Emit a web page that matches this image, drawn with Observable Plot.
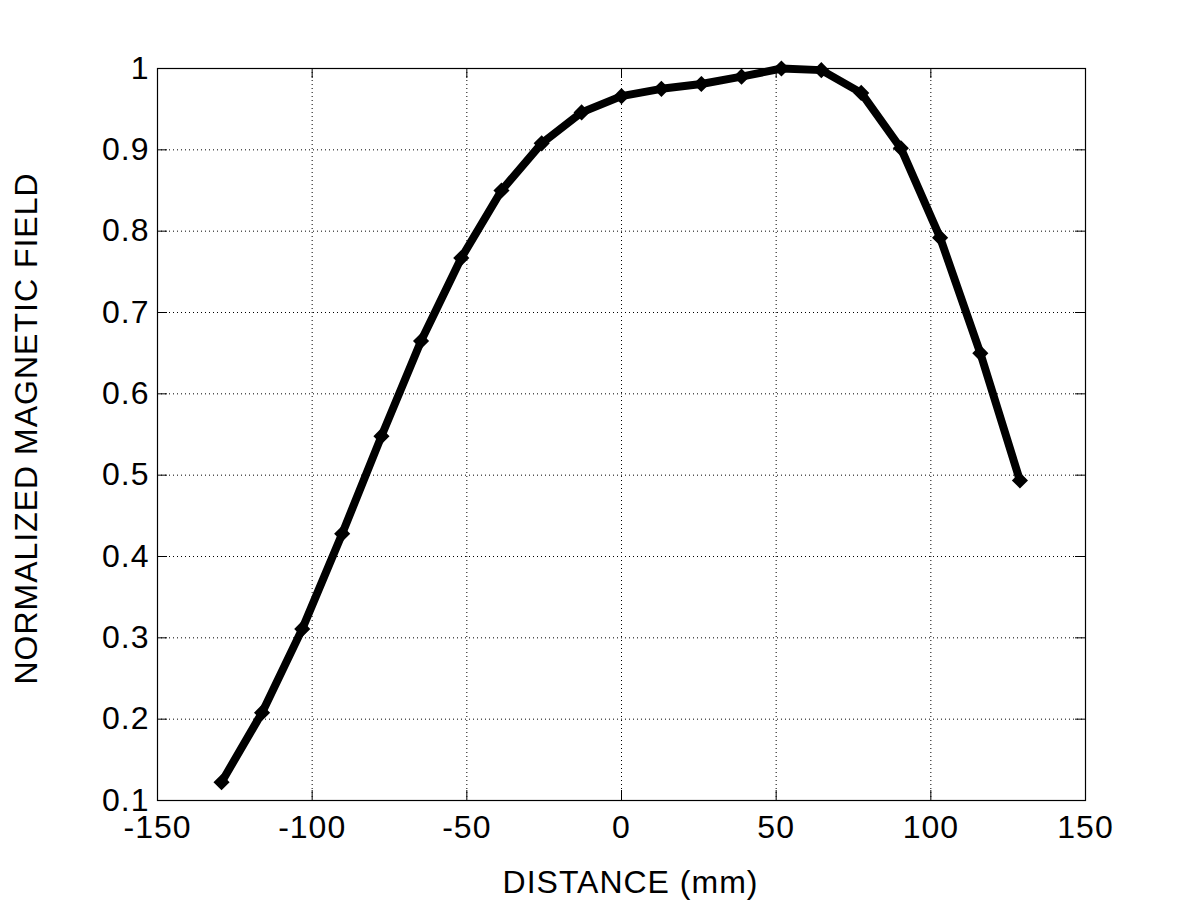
<!DOCTYPE html>
<html>
<head>
<meta charset="utf-8">
<script src="https://cdn.jsdelivr.net/npm/d3@7"></script>
<script src="https://cdn.jsdelivr.net/npm/@observablehq/plot@0.6"></script>
<style>
  html, body { margin: 0; padding: 0; background: #fff; }
  #chart svg { display: block; }
  #chart svg text { letter-spacing: 1px; }
</style>
</head>
<body>
<div id="chart"></div>
<script>
const distance = [-129.3, -116.2, -103.2, -90.3, -77.6, -64.8, -51.8, -38.8, -25.8, -12.9, 0, 12.9, 25.8, 38.8, 51.7, 64.6, 77.5, 90.3, 103.0, 116.0, 128.8];
const field = [0.1225, 0.208, 0.311, 0.428, 0.548, 0.665, 0.767, 0.850, 0.908, 0.946, 0.966, 0.975, 0.981, 0.990, 1.000, 0.998, 0.970, 0.902, 0.792, 0.650, 0.4935];
const xTicks = [-150, -100, -50, 0, 50, 100, 150];
const yTicks = [0.1, 0.2, 0.3, 0.4, 0.5, 0.6, 0.7, 0.8, 0.9, 1];
const xLabel = "DISTANCE (mm)";
const yLabel = "NORMALIZED MAGNETIC FIELD";

const data = distance.map((d, i) => ({x: d, y: field[i]}));

const W = 1200, H = 900;
const mL = 157, mR = 115, mT = 68, mB = 100;
const pw = W - mL - mR, ph = H - mT - mB;
const tl = 10;
const font = "'Liberation Sans', Arial, sans-serif";

const chart = Plot.plot({
  width: W,
  height: H,
  marginLeft: mL,
  marginRight: mR,
  marginTop: mT,
  marginBottom: mB,
  style: {fontFamily: font, fontSize: "32px", color: "#000", background: "#fff"},
  x: {domain: [-150, 150], ticks: xTicks},
  y: {domain: [0.1, 1], ticks: yTicks},
  marks: [
    Plot.gridX(xTicks, {stroke: "#000", strokeOpacity: 1, strokeWidth: 1, strokeDasharray: "1,3"}),
    Plot.gridY(yTicks, {stroke: "#000", strokeOpacity: 1, strokeWidth: 1, strokeDasharray: "1,3"}),
    Plot.tickX(xTicks, {x: d => d, insetTop: ph - tl, stroke: "#000"}),
    Plot.tickX(xTicks, {x: d => d, insetBottom: ph - tl, stroke: "#000"}),
    Plot.tickY(yTicks, {y: d => d, insetRight: pw - tl, stroke: "#000"}),
    Plot.tickY(yTicks, {y: d => d, insetLeft: pw - tl, stroke: "#000"}),
    Plot.axisX(xTicks, {tickSize: 0, tickPadding: 15, label: null, tickFormat: d => String(d), fontSize: 32, fill: "#000"}),
    Plot.axisY(yTicks, {tickSize: 0, tickPadding: 8, label: null, tickFormat: d => String(+d.toFixed(1)), fontSize: 32, fill: "#000"}),
    Plot.line(data, {x: "x", y: "y", stroke: "#000", strokeWidth: 8, strokeLinejoin: "round", strokeLinecap: "round"}),
    Plot.dot(data, {x: "x", y: "y", symbol: "diamond2", r: 6, fill: "#000", stroke: "#000", strokeWidth: 2}),
    Plot.frame({stroke: "#000", strokeWidth: 1.2}),
    Plot.text([xLabel], {frameAnchor: "bottom", dy: 82, dx: 9, lineAnchor: "middle", textAnchor: "middle", fontSize: 32, fill: "#000"}),
    Plot.text([yLabel], {frameAnchor: "left", dx: -131, dy: -6, rotate: -90, lineAnchor: "middle", textAnchor: "middle", fontSize: 32, fill: "#000"})
  ]
});

document.getElementById("chart").appendChild(chart);
</script>
</body>
</html>
